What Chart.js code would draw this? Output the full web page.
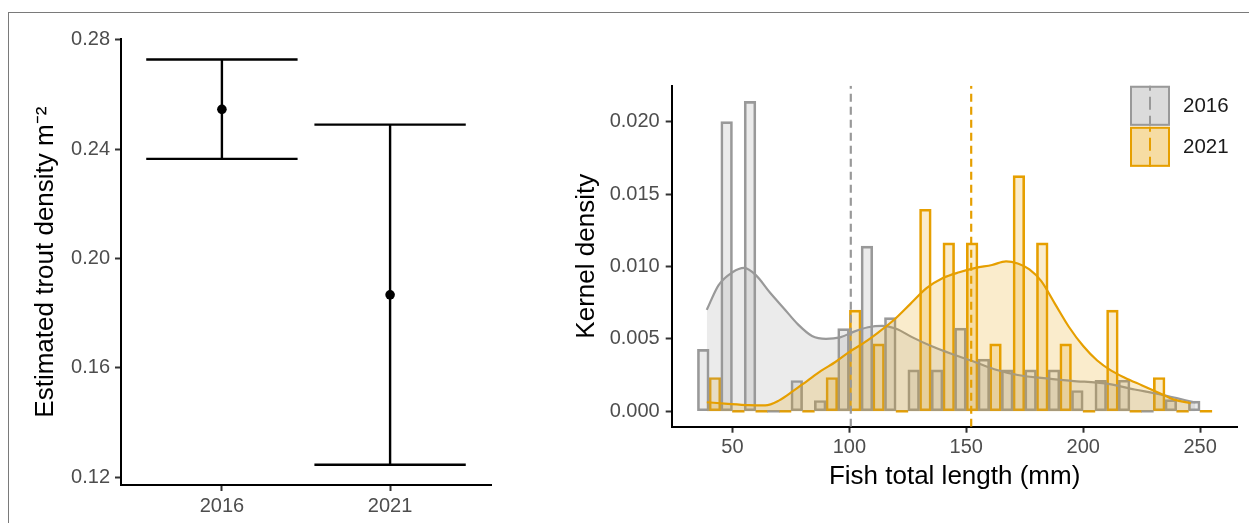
<!DOCTYPE html>
<html>
<head>
<meta charset="utf-8">
<script src="https://cdn.jsdelivr.net/npm/chart.js@4.4.1/dist/chart.umd.min.js"></script>
<style>
  html, body { margin: 0; padding: 0; background: #fff; overflow: hidden; }
  #wrap { position: relative; width: 1249px; height: 523px; }
  #frame { position: absolute; left: 8px; top: 12px; width: 1300px; height: 600px; border: 1px solid #7a7a7a; }
  #left { position: absolute; left: 0; top: 0; }
  #right { position: absolute; left: 540px; top: 0; }
</style>
</head>
<body>
<div id="wrap">
  <div id="frame"></div>
  <canvas id="left" width="530" height="523"></canvas>
  <canvas id="right" width="709" height="523"></canvas>
</div>
<script>
// left panel: estimated density with interval
var years = ['2016', '2021'];
var densityEst = [0.2545, 0.1867];
var densityLow = [0.2364, 0.1246];
var densityHigh = [0.2727, 0.2489];
var densityTicks = [0.12, 0.16, 0.20, 0.24, 0.28];

// right panel: length histograms (10 mm bins) + kernel density
var binMid = [40, 50, 60, 70, 80, 90, 100, 110, 120, 130, 140, 150, 160, 170, 180, 190, 200, 210, 220, 230, 240, 250];
var hist2016 = [0.00427, 0.0200, 0.0214, 0, 0.00212, 0.00074, 0.0057, 0.0114, 0.00646, 0.00286, 0.00286, 0.00574, 0.0036, 0.00286, 0.00286, 0.00286, 0.00143, 0.00214, 0.00214, 0, 0.0008, 0.0007];
var hist2021 = [0.00233, 0, 0, 0, 0, 0.00233, 0.00698, 0.00465, 0, 0.01395, 0.01163, 0.01163, 0.00465, 0.01628, 0.01163, 0.00465, 0, 0.00698, 0, 0.00233, 0, 0];

var kdeX2016 = [39, 44, 50, 55, 60, 66, 72, 78, 84, 90, 96, 102, 108, 114, 120, 127, 135, 143, 152, 162, 172, 182, 195, 210, 222, 232, 240, 248];
var kdeY2016 = [0.0070, 0.0087, 0.0096, 0.0099, 0.0094, 0.0082, 0.0071, 0.0060, 0.0052, 0.0050, 0.0051, 0.0055, 0.0058, 0.0059, 0.0057, 0.0051, 0.0045, 0.0040, 0.0035, 0.0029, 0.0025, 0.0023, 0.0021, 0.0019, 0.0015, 0.0012, 0.0009, 0.0006];
var kdeX2021 = [39, 48, 57, 64, 70, 76, 82, 88, 94, 100, 106, 112, 119, 126, 133, 140, 147, 154, 161, 167, 172, 177, 182, 188, 194, 200, 206, 212, 218, 225, 232, 239, 246];
var kdeY2021 = [0.00062, 0.00051, 0.00042, 0.0004, 0.00075, 0.0014, 0.0021, 0.0028, 0.0034, 0.0041, 0.0047, 0.0054, 0.0063, 0.0074, 0.0085, 0.0092, 0.0096, 0.0099, 0.0101, 0.01035, 0.0102, 0.0098, 0.0090, 0.0074, 0.0058, 0.0045, 0.0035, 0.0028, 0.0023, 0.0018, 0.0013, 0.0008, 0.00055];

var mean2016 = 100.6;
var mean2021 = 152.1;
var lengthTicks = [50, 100, 150, 200, 250];
var kdeTicks = [0, 0.005, 0.010, 0.015, 0.020];

var grey = '#999999';
var orange = '#E69F00';
var greyFill = 'rgba(153,153,153,0.2)';
var orangeFill = 'rgba(230,159,0,0.2)';
var tickGrey = '#4d4d4d';

Chart.defaults.font.family = '"Liberation Sans", Arial, sans-serif';
Chart.defaults.animation = false;
Chart.defaults.plugins.legend.display = false;
Chart.defaults.plugins.tooltip.enabled = false;

function axisLook() {
  return {
    border: { display: true, color: '#000', width: 2 },
    grid: { offset: false, drawOnChartArea: false, drawTicks: true, tickLength: 6, tickColor: '#333', tickWidth: 2 }
  };
}

function xy(xs, ys) {
  return xs.map((x, i) => ({ x: x, y: ys[i] }));
}

// ---------- left ----------
var capHalf = 0.45;
var stems = [], capsHi = [], capsLo = [];
years.forEach((yr, i) => {
  var c = i + 1;
  stems.push({ x: c, y: densityLow[i] }, { x: c, y: densityHigh[i] }, { x: c, y: null });
  capsHi.push({ x: c - capHalf, y: densityHigh[i] }, { x: c + capHalf, y: densityHigh[i] }, { x: c + capHalf, y: null });
  capsLo.push({ x: c - capHalf, y: densityLow[i] }, { x: c + capHalf, y: densityLow[i] }, { x: c + capHalf, y: null });
});

var lineBase = { type: 'line', showLine: true, borderColor: '#000', borderWidth: 2.4, pointRadius: 0, spanGaps: false, fill: false };

new Chart(document.getElementById('left').getContext('2d'), {
  type: 'scatter',
  data: {
    datasets: [
      Object.assign({ data: stems }, lineBase),
      Object.assign({ data: capsHi }, lineBase),
      Object.assign({ data: capsLo }, lineBase),
      {
        type: 'scatter',
        data: densityEst.map((v, i) => ({ x: i + 1, y: v })),
        pointRadius: 4.8,
        backgroundColor: '#000',
        borderWidth: 0
      }
    ]
  },
  options: {
    responsive: false,
    devicePixelRatio: 1,
    layout: { padding: { left: 0, top: 39.3, right: 39, bottom: 0 } },
    scales: {
      x: Object.assign(axisLook(), {
        type: 'linear', min: 0.4, max: 2.6, offset: false,
        afterBuildTicks: s => { s.ticks = years.map((y, i) => ({ value: i + 1 })); },
        afterFit: s => { s.height = 38; },
        ticks: { color: tickGrey, font: { size: 20 }, padding: 3, callback: v => years[v - 1] }
      }),
      y: Object.assign(axisLook(), {
        min: 0.1172, max: 0.2801,
        afterBuildTicks: s => { s.ticks = densityTicks.map(v => ({ value: v })); },
        afterFit: s => { s.width = 121; },
        ticks: { color: tickGrey, font: { size: 20 }, padding: 5, callback: v => v.toFixed(2) },
        title: { display: true, text: 'Estimated trout density m\u207B\u00B2', color: '#000', font: { size: 26 }, padding: { top: 30, bottom: 0 } }
      })
    }
  }
});

// ---------- right ----------
var keyItems = [
  { text: '2016', line: grey, fill: greyFill },
  { text: '2021', line: orange, fill: orangeFill }
];

var keyLegend = {
  id: 'keyLegend',
  afterDraw: function (chart) {
    var ctx = chart.ctx;
    var ca = chart.chartArea;
    var x0 = ca.right - 107.5;
    var size = 40;
    keyItems.forEach((k, i) => {
      var y = ca.top + i * 41;
      ctx.save();
      ctx.fillStyle = '#fff';
      ctx.fillRect(x0, y, size, size);
      ctx.fillStyle = k.fill;
      ctx.fillRect(x0, y, size, size);
      ctx.fillRect(x0, y, size, size);
      ctx.strokeStyle = k.line;
      ctx.lineWidth = 2;
      ctx.strokeRect(x0 + 1, y + 1, size - 2, size - 2);
      ctx.setLineDash([13, 6]);
      ctx.lineDashOffset = 8;
      ctx.lineWidth = 2;
      ctx.beginPath();
      ctx.moveTo(x0 + size / 2, y);
      ctx.lineTo(x0 + size / 2, y + size);
      ctx.stroke();
      ctx.setLineDash([]);
      ctx.fillStyle = '#1a1a1a';
      ctx.font = '20.5px "Liberation Sans", Arial, sans-serif';
      ctx.textBaseline = 'middle';
      ctx.fillText(k.text, x0 + 53, y + size / 2 + 1);
      ctx.restore();
    });
  }
};

var yMin = -0.00107, yMax = 0.02248;

function barColor(line, fill) {
  return ctx => (ctx.raw && ctx.raw.y === 0) ? line : fill;
}

function barSet(values, line, fill) {
  return {
    data: xy(binMid, values), order: 5,
    backgroundColor: barColor(line, fill), borderColor: line,
    borderWidth: ctx => (ctx.raw && ctx.raw.y === 0) ? 0 : 2,
    borderSkipped: false, minBarLength: 2,
    barPercentage: 1, categoryPercentage: 1
  };
}

new Chart(document.getElementById('right').getContext('2d'), {
  type: 'bar',
  data: {
    datasets: [
      barSet(hist2016, grey, greyFill),
      barSet(hist2021, orange, orangeFill),
      {
        type: 'line', data: xy(kdeX2016, kdeY2016), order: 4,
        borderColor: grey, borderWidth: 2.2, backgroundColor: greyFill,
        fill: 'origin', pointRadius: 0, cubicInterpolationMode: 'monotone'
      },
      {
        type: 'line', data: xy(kdeX2021, kdeY2021), order: 3,
        borderColor: orange, borderWidth: 2.2, backgroundColor: orangeFill,
        fill: 'origin', pointRadius: 0, cubicInterpolationMode: 'monotone'
      },
      {
        type: 'line', data: [{ x: mean2016, y: yMin }, { x: mean2016, y: yMax }], order: 1,
        borderColor: grey, borderWidth: 2.2, borderDash: [8, 5], pointRadius: 0, fill: false
      },
      {
        type: 'line', data: [{ x: mean2021, y: yMin }, { x: mean2021, y: yMax }], order: 1,
        borderColor: orange, borderWidth: 2.2, borderDash: [8, 5], pointRadius: 0, fill: false
      }
    ]
  },
  options: {
    responsive: false,
    devicePixelRatio: 1,
    layout: { padding: { left: 0, top: 85.8, right: 11.5, bottom: 0 } },
    scales: {
      x: Object.assign(axisLook(), {
        type: 'linear', min: 24, max: 266, offset: false,
        afterBuildTicks: s => { s.ticks = lengthTicks.map(v => ({ value: v })); },
        afterFit: s => { s.height = 96.3; },
        ticks: { color: tickGrey, font: { size: 20 }, padding: 3 },
        title: { display: true, text: 'Fish total length (mm)', color: '#000', font: { size: 26 }, padding: { top: 0, bottom: 31 } }
      }),
      y: Object.assign(axisLook(), {
        min: yMin, max: yMax,
        afterBuildTicks: s => { s.ticks = kdeTicks.map(v => ({ value: v })); },
        afterFit: s => { s.width = 131.7; },
        ticks: { color: tickGrey, font: { size: 20 }, padding: 6, callback: v => v.toFixed(3) },
        title: { display: true, text: 'Kernel density', color: '#000', font: { size: 26 }, padding: { top: 31, bottom: 0 } }
      })
    }
  },
  plugins: [keyLegend]
});
</script>
</body>
</html>
